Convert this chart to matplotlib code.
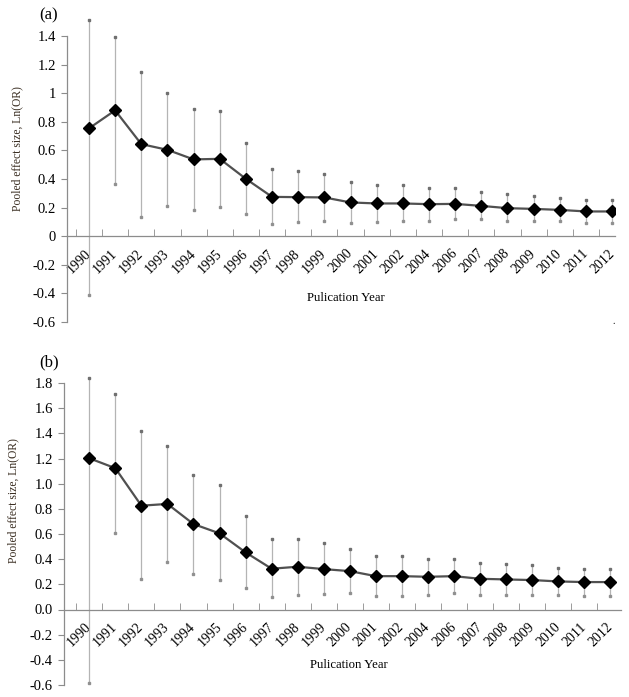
import matplotlib
matplotlib.use("Agg")
import matplotlib.pyplot as plt
import numpy as np

plt.rcParams['font.family'] = ['Liberation Serif', 'DejaVu Serif']

years = ["1990", "1991", "1992", "1993", "1994", "1995", "1996", "1997", "1998", "1999",
         "2000", "2001", "2002", "2004", "2006", "2007", "2008", "2009", "2010", "2011", "2012"]

# panel (a)
est_a = [0.754, 0.880, 0.644, 0.604, 0.537, 0.541, 0.401, 0.275, 0.273, 0.271,
         0.236, 0.229, 0.229, 0.224, 0.226, 0.212, 0.196, 0.191, 0.184, 0.173, 0.173]
hi_a = [1.51, 1.395, 1.150, 1.003, 0.887, 0.877, 0.653, 0.469, 0.453, 0.434,
        0.376, 0.355, 0.355, 0.338, 0.334, 0.310, 0.296, 0.282, 0.268, 0.252, 0.252]
lo_a = [-0.41, 0.364, 0.135, 0.212, 0.184, 0.205, 0.154, 0.084, 0.096, 0.103,
        0.093, 0.096, 0.103, 0.105, 0.117, 0.117, 0.107, 0.103, 0.107, 0.093, 0.093]
yticks_a = [-0.6, -0.4, -0.2, 0, 0.2, 0.4, 0.6, 0.8, 1, 1.2, 1.4]
ylabels_a = ["-0.6", "-0.4", "-0.2", "0", "0.2", "0.4", "0.6", "0.8", "1", "1.2", "1.4"]

# panel (b)
est_b = [1.202, 1.123, 0.825, 0.839, 0.679, 0.605, 0.454, 0.324, 0.340, 0.321,
         0.305, 0.265, 0.265, 0.260, 0.265, 0.244, 0.239, 0.234, 0.223, 0.218, 0.218]
hi_b = [1.84, 1.712, 1.420, 1.298, 1.070, 0.987, 0.746, 0.560, 0.560, 0.525,
        0.478, 0.422, 0.422, 0.403, 0.398, 0.372, 0.361, 0.350, 0.326, 0.321, 0.318]
lo_b = [-0.584, 0.608, 0.242, 0.374, 0.284, 0.231, 0.167, 0.096, 0.114, 0.122,
        0.130, 0.109, 0.111, 0.114, 0.130, 0.114, 0.119, 0.114, 0.114, 0.109, 0.109]
yticks_b = [-0.6, -0.4, -0.2, 0.0, 0.2, 0.4, 0.6, 0.8, 1.0, 1.2, 1.4, 1.6, 1.8]
ylabels_b = ["%.1f" % v for v in yticks_b]

W, H = 629, 697
fig = plt.figure(figsize=(W / 100, H / 100), dpi=100)

AX_COL = "#8c8c8c"
ERR_COL = "#b4b4b4"


def panel(rect, est, hi, lo, yticks, ylabels, xlim, tag, tagpos, xlabpos):
    ax = fig.add_axes(rect)
    x = np.arange(len(years))
    # error bars with tiny dot caps
    ax.vlines(x, lo, hi, color=ERR_COL, linewidth=0.9, clip_on=False, zorder=1)
    ax.plot(x, hi, ls="none", marker="s", ms=1.6, color="#707070", clip_on=False, zorder=2)
    ax.plot(x, lo, ls="none", marker="s", ms=1.6, color="#909090", clip_on=False, zorder=2)
    ax.plot(x, est, color="#505050", linewidth=1.6, zorder=3)
    ax.plot(x, est, ls="none", marker="D", ms=6.3, color="black", zorder=4)

    ax.set_xlim(*xlim)
    ax.set_ylim(yticks[0], yticks[-1])
    for s in ["top", "right"]:
        ax.spines[s].set_visible(False)
    ax.spines["bottom"].set_position(("data", 0))
    for s in ["bottom", "left"]:
        ax.spines[s].set_color(AX_COL)
        ax.spines[s].set_linewidth(0.9)

    ax.set_yticks(yticks)
    ax.set_yticklabels(ylabels, fontsize=10.5)
    ax.tick_params(axis="y", direction="out", length=4, color=AX_COL, pad=4)

    ax.set_xticks(x)
    ax.set_xticklabels(years, fontsize=10, rotation=45, ha="right", va="center",
                       rotation_mode="anchor")
    ax.tick_params(axis="x", which="major", length=0, pad=11)
    ax.set_xticks(x - 0.5, minor=True)
    ax.tick_params(axis="x", which="minor", direction="in", length=5, color=AX_COL)

    fig.text(tagpos[0] / W, 1 - tagpos[1] / H, tag, fontsize=12, ha="center", va="center")
    fig.text(xlabpos[0] / W, 1 - xlabpos[1] / H, "Pulication Year", fontsize=9.2,
             ha="center", va="center")
    ax.set_ylabel("Pooled effect size, Ln(OR)", fontsize=8.4, color="#3a2e22")
    return ax


ax_a = panel([67 / W, 1 - 322 / H, 548 / W, 286 / H], est_a, hi_a, lo_a,
             yticks_a, ylabels_a, (-0.84, 20.11), "(a)", (49, 15), (346, 298))
ax_b = panel([64 / W, 1 - 685 / H, 557 / W, 302 / H], est_b, hi_b, lo_b,
             yticks_b, ylabels_b, (-0.97, 20.41), "(b)", (49, 362), (349, 665))
ax_a.yaxis.set_label_coords(-0.08, 0.605)
ax_b.yaxis.set_label_coords(-0.081, 0.61)

fig.text(614 / W, 1 - 322 / H, ".", fontsize=7, ha="center", va="center")

fig.savefig("out.png", dpi=100)
